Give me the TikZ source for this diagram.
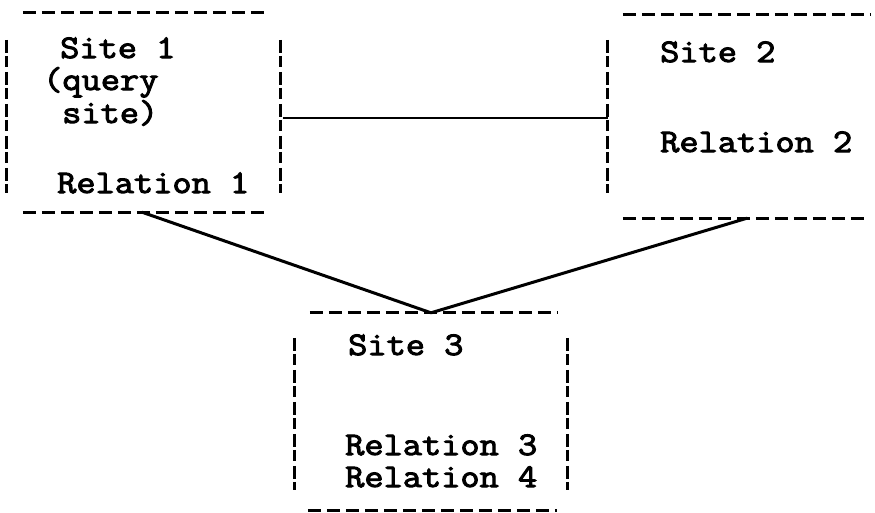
\documentclass[tikz,border=0pt]{standalone}
\usepackage{fontspec}
\newfontfamily\typfont{Latin Modern Mono}[FakeBold=3, FakeStretch=1.13]
\usetikzlibrary{calc}
\begin{document}
\begin{tikzpicture}[x=1pt,y=-1pt,
  txt/.style={anchor=base west, inner sep=0pt, font=\typfont\fontsize{33}{38}\selectfont},
  sitebox/.style={draw=none, rectangle, inner sep=0pt},
  hdash/.style={line width=3pt, dash pattern=on 13pt off 6pt},
  vdash/.style={line width=3pt, dash pattern=on 13pt off 3pt on 11pt off 5pt},
  link/.style={line width=3pt, line cap=round, line join=round}]
\useasboundingbox (0,0) rectangle (875,512);

% boxes
\node[sitebox, minimum width=273pt, minimum height=199pt] (b1) at (143.5,112.5) {};
\node[sitebox, minimum width=262pt, minimum height=203pt] (b2) at (739,116.5) {};
\node[sitebox, minimum width=272pt, minimum height=197pt] (b3) at (431,411.5) {};

% box 1 outline
\draw[hdash] ([xshift=16pt]b1.north west) -- ([xshift=-12pt]b1.north east);
\draw[hdash] ([xshift=16pt]b1.south west) -- ([xshift=-12pt]b1.south east);
\draw[vdash] ([yshift=-27pt]b1.north west) -- ([yshift=19pt]b1.south west);
\draw[vdash] ([yshift=-27pt]b1.north east) -- ([yshift=19pt]b1.south east);

% box 2 outline
\draw[hdash] ([xshift=15pt]b2.north west) -- (b2.north east);
\draw[hdash] ([xshift=15pt]b2.south west) -- ([xshift=-5pt]b2.south east);
\draw[vdash] ([yshift=-25pt]b2.north west) -- ([yshift=25pt]b2.south west);

% box 3 outline
\draw[hdash] ([xshift=15pt]b3.north west) -- ([xshift=-10pt]b3.north east);
\draw[hdash] ([xshift=13pt]b3.south west) -- ([xshift=-10pt]b3.south east);
\draw[vdash] ([yshift=-25pt]b3.north west) -- ([yshift=20pt]b3.south west);
\draw[vdash] ([yshift=-25pt]b3.north east) -- ([yshift=20pt]b3.south east);

% texts
\node[txt] (s1) at (60,58) {Site 1};
\node[txt] (q1) at (43,90) {(query};
\node[txt] (q2) at (62,123) {site)};
\node[txt] (r1) at (57,193) {Relation 1};
\node[txt] (s2) at (660,62) {Site 2};
\node[txt] (r2) at (660,152) {Relation 2};
\node[txt] (s3) at (348,355) {Site 3};
\node[txt] (r3) at (345,455) {Relation 3};
\node[txt] (r4) at (345,487) {Relation 4};

% connectors
\path (b1.east) ++(3,5.5) coordinate (h1);
\draw[line width=2.8pt] (h1) -- (h1 -| b2.west);
\draw[link] ([xshift=-1.5pt]b1.south) -- (b3.north) -- ([xshift=8pt]b2.south);
\end{tikzpicture}
\end{document}
